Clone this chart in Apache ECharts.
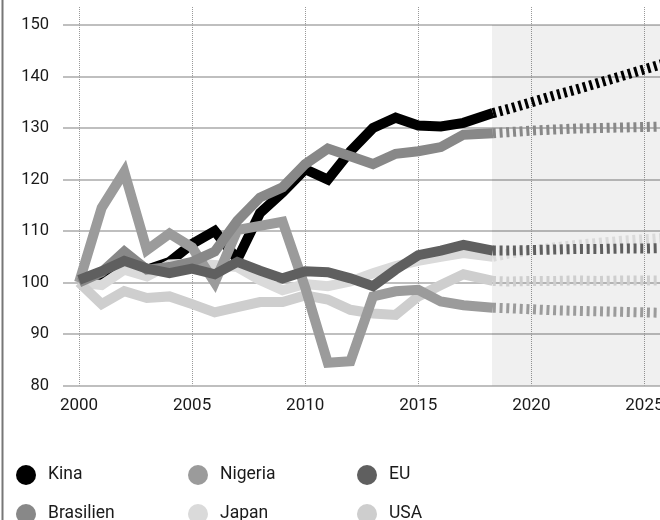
<!DOCTYPE html>
<html>
<head>
<meta charset="utf-8">
<script src="https://cdn.jsdelivr.net/npm/echarts@6/dist/echarts.min.js"></script>
<style>
  html, body { margin: 0; padding: 0; background: #fff; }
  #chart { width: 660px; height: 520px; }
</style>
</head>
<body>
<div id="chart"></div>
<script>
// ---- data ----
const years = [2000, 2001, 2002, 2003, 2004, 2005, 2006, 2007, 2008, 2009,
               2010, 2011, 2012, 2013, 2014, 2015, 2016, 2017, 2018.3];
const forecastYears = [2018.3, 2019, 2020, 2021, 2022, 2023, 2024, 2025, 2026];

const kina      = [100, 101, 103, 102.5, 104, 107.5, 110, 104.5, 113.5, 117.5, 122, 120, 125.5, 130, 132, 130.5, 130.3, 131, 132.9];
const nigeria   = [100, 114.5, 121.5, 106.3, 109.5, 106.8, 100, 110.2, 111, 111.8, 99, 84.4, 84.7, 97.3, 98.3, 98.6, 96.3, 95.6, 95.1];
const eu        = [100.5, 102.2, 104.2, 102.7, 101.8, 102.7, 101.6, 104, 102.3, 100.8, 102.2, 102, 100.8, 99.3, 102.5, 105.3, 106.2, 107.3, 106.2];
const brasilien = [100, 102, 106, 102.5, 103, 104, 106, 112, 116.5, 118.5, 123, 126, 124.5, 123, 125, 125.5, 126.3, 128.7, 129];
const japan     = [100, 99.5, 102.5, 101.2, 103.5, 103.7, 103.4, 103, 100.5, 98.5, 99.7, 99.3, 100.2, 101.8, 103.2, 104.2, 105, 105.7, 105];
const usa       = [100, 95.8, 98.3, 97, 97.3, 95.8, 94.2, 95.2, 96.2, 96.2, 97.5, 96.7, 94.7, 94, 93.7, 97.3, 99.5, 101.6, 100.3];

const kinaF      = [132.9, 133.7, 135.0, 136.3, 137.5, 138.8, 140.1, 141.4, 142.7];
const nigeriaF   = [95.1, 95, 94.8, 94.6, 94.5, 94.4, 94.3, 94.2, 94.1];
const euF        = [106.2, 106.2, 106.3, 106.4, 106.5, 106.5, 106.6, 106.6, 106.7];
const brasilienF = [129, 129.2, 129.5, 129.7, 129.9, 130, 130.1, 130.2, 130.3];
const japanF     = [105, 105.6, 106.2, 106.8, 107.3, 107.7, 108.1, 108.4, 108.7];
const usaF       = [100.3, 100.2, 100.3, 100.3, 100.4, 100.3, 100.4, 100.4, 100.4];

const yTicks = [80, 90, 100, 110, 120, 130, 140, 150];
const forecastStart = 2018.26;

// ---- styles ----
const FONT = 'Roboto, "DejaVu Sans", sans-serif';
const colors = {
  Kina: '#000000', Nigeria: '#9b9b9b', EU: '#5f5f5f',
  Brasilien: '#888888', Japan: '#dadada', USA: '#cecece'
};
const X_MIN = 1999.29, X_MAX = 2025.69;

function pairs(xs, ys) { return xs.map((x, i) => [x, ys[i]]); }

const histSets = [
  ['Kina', kina, kinaF],
  ['Japan', japan, japanF],
  ['USA', usa, usaF],
  ['Nigeria', nigeria, nigeriaF],
  ['Brasilien', brasilien, brasilienF],
  ['EU', eu, euF]
];

const series = [];
histSets.forEach(([name, h, f], idx) => {
  series.push({
    name: name, type: 'line', data: pairs(years, h),
    symbol: 'none', color: colors[name], z: 3 + idx,
    lineStyle: { width: 10, color: colors[name], join: 'miter', miterLimit: 10, cap: 'butt' },
    itemStyle: { color: colors[name] },
    emphasis: { disabled: true }, silent: true
  });
  series.push({
    name: name, type: 'line', data: pairs(forecastYears, f),
    symbol: 'none', color: colors[name], z: 3 + idx,
    lineStyle: { width: 10, color: colors[name], type: [3, 3.7], cap: 'butt', join: 'miter' },
    itemStyle: { color: colors[name] },
    emphasis: { disabled: true }, silent: true
  });
});
series[0].markArea = {
  silent: true,
  itemStyle: { color: 'rgba(0,0,0,0.06)' },
  data: [[{ xAxis: forecastStart, yAxis: yTicks[0] }, { xAxis: X_MAX, yAxis: yTicks[yTicks.length - 1] }]]
};

function legendCol(left, names) {
  return {
    orient: 'vertical', left: left, top: 460, height: 80,
    data: names, icon: 'circle',
    itemWidth: 34, itemHeight: 20, itemGap: 19,
    itemStyle: { borderWidth: 0 },
    selectedMode: false,
    textStyle: { fontFamily: FONT, fontSize: 17.5, color: '#1a1a1a' }
  };
}

const chart = echarts.init(document.getElementById('chart'), null, { renderer: 'canvas' });
chart.setOption({
  backgroundColor: '#ffffff',
  animation: false,
  textStyle: { fontFamily: FONT },
  grid: { left: 63, right: 0, top: 7, bottom: 134.5, containLabel: false, outerBoundsMode: 'none' },
  xAxis: {
    type: 'value', min: X_MIN, max: X_MAX,
    splitNumber: 5, minInterval: 5, maxInterval: 5,
    axisLine: { show: false }, axisTick: { show: false },
    axisLabel: {
      fontFamily: FONT, fontSize: 17, color: '#1a1a1a', margin: 12,
      showMinLabel: false, showMaxLabel: false,
      formatter: v => String(Math.round(v))
    },
    splitLine: {
      show: true, showMinLine: false, showMaxLine: false,
      lineStyle: { type: 'dotted', color: '#999', width: 1 }
    }
  },
  yAxis: {
    type: 'value', min: yTicks[0], max: 153.5, interval: 10,
    axisLine: { show: false }, axisTick: { show: false },
    axisLabel: {
      fontFamily: FONT, fontSize: 16.5, color: '#1a1a1a', margin: 14,
      showMaxLabel: false
    },
    splitLine: {
      show: true, showMaxLine: false,
      lineStyle: { color: '#aaaaaa', width: 1.5 }
    }
  },
  legend: [
    legendCol(11, ['Kina', 'Brasilien']),
    legendCol(183, ['Nigeria', 'Japan']),
    legendCol(352, ['EU', 'USA'])
  ],
  graphic: [{
    type: 'line', silent: true,
    shape: { x1: 2.5, y1: 0, x2: 2.5, y2: 520 },
    style: { stroke: '#777', lineWidth: 2 }
  }],
  series: series
});
</script>
</body>
</html>
